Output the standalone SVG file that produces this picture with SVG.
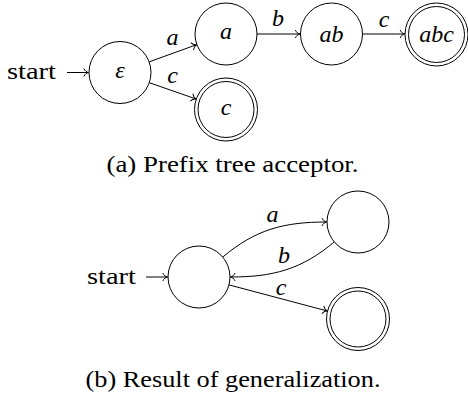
<svg xmlns="http://www.w3.org/2000/svg" width="468" height="403" viewBox="0 0 468 403">
<style>
  .st { fill: #fff; stroke: #000; stroke-width: 1; }
  .acc { fill: none; stroke: #000; stroke-width: 1; }
  .e { fill: none; stroke: #000; stroke-width: 1; marker-end: url(#to); }
  text { fill: #000; font-size: 24px; }
  .m { font-style: italic; text-anchor: middle; }
</style>
<defs>
  <marker id="to" viewBox="-6 -5 8 10" markerWidth="8" markerHeight="10" refX="0" refY="0" orient="auto" markerUnits="userSpaceOnUse">
    <path d="M-4.5,-3.6 C-3.6,-1.5 -1.6,-0.3 0,0 C-1.6,0.3 -3.6,1.5 -4.5,3.6" fill="none" stroke="#000" stroke-width="1" stroke-linecap="round"/>
  </marker>
</defs>

<g font-family="Liberation Serif, serif">
<!-- (a) Prefix tree acceptor -->
<g id="connectors-a">
  <line class="e" x1="67" y1="72.5" x2="88.5" y2="72.5"/>
  <line class="e" x1="149.1" y1="61.9" x2="196.6" y2="44.7"/>
  <line class="e" x1="149.3" y1="82.7" x2="196.1" y2="99"/>
  <line class="e" x1="257" y1="34" x2="300" y2="34"/>
  <line class="e" x1="362.5" y1="34" x2="404.8" y2="34"/>
</g>
<text x="7" y="79" textLength="49" lengthAdjust="spacingAndGlyphs">start</text>
<text class="m" x="172.5" y="45">a</text>
<text class="m" x="172.5" y="83">c</text>
<text class="m" x="278" y="26">b</text>
<text class="m" x="384" y="27">c</text>

<g id="q-eps">
  <circle class="st" cx="120" cy="72.5" r="31"/>
  <text class="m" x="120" y="77.5">ε</text>
</g>
<g id="q-a">
  <circle class="st" cx="226" cy="34" r="31"/>
  <text class="m" x="226" y="39">a</text>
</g>
<g id="q-ab">
  <circle class="st" cx="331.5" cy="34" r="31"/>
  <text class="m" x="331.5" y="41.5">ab</text>
</g>
<g id="q-abc">
  <circle class="st" cx="436.5" cy="34.5" r="31.5"/>
  <circle class="acc" cx="436.5" cy="34.5" r="28"/>
  <text class="m" x="436.5" y="42">abc</text>
</g>
<g id="q-c">
  <circle class="st" cx="226" cy="109.5" r="31.5"/>
  <circle class="acc" cx="226" cy="109.5" r="28"/>
  <text class="m" x="226" y="114.5">c</text>
</g>
<text x="232.5" y="172" text-anchor="middle" textLength="252" lengthAdjust="spacingAndGlyphs">(a) Prefix tree acceptor.</text>

<!-- (b) Result of generalization -->
<g id="connectors-b">
  <line class="e" x1="146" y1="277" x2="167.5" y2="277"/>
  <path class="e" d="M222.7,257.1 C255.6,229.4 284,222 326.6,222"/>
  <path class="e" d="M334.3,241.9 C301.4,269.5 273,277 230.4,277"/>
  <line class="e" x1="229" y1="284.9" x2="327.4" y2="311"/>
</g>
<text x="87" y="284" textLength="49" lengthAdjust="spacingAndGlyphs">start</text>
<text class="m" x="272.5" y="222">a</text>
<text class="m" x="284" y="263">b</text>
<text class="m" x="281" y="295">c</text>

<g id="p-0">
  <circle class="st" cx="199" cy="277" r="31"/>
</g>
<g id="p-1">
  <circle class="st" cx="358" cy="222" r="31"/>
</g>
<g id="p-2">
  <circle class="st" cx="358" cy="319" r="31.5"/>
  <circle class="acc" cx="358" cy="319" r="28"/>
</g>
<text x="233" y="387" text-anchor="middle" textLength="295" lengthAdjust="spacingAndGlyphs">(b) Result of generalization.</text>
</g>
</svg>
